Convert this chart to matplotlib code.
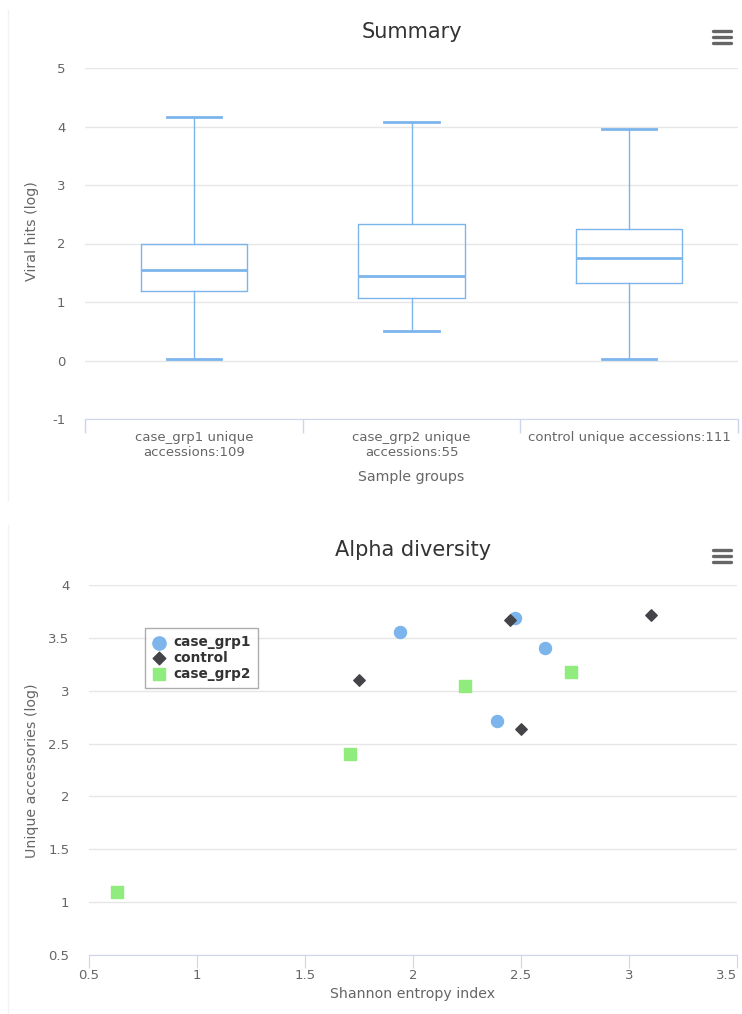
import matplotlib
matplotlib.use("Agg")
import matplotlib.pyplot as plt
from matplotlib.lines import Line2D

plt.rcParams['font.family'] = ['DejaVu Sans']

# ---- Data: Summary box plot ----
groups = ["case_grp1 unique\naccessions:109", "case_grp2 unique\naccessions:55", "control unique accessions:111"]
box_low = [0.03, 0.51, 0.03]
box_q1 = [1.19, 1.07, 1.32]
box_med = [1.54, 1.44, 1.75]
box_q3 = [2.00, 2.33, 2.25]
box_high = [4.16, 4.08, 3.96]
summary_yticks = [-1, 0, 1, 2, 3, 4, 5]

# ---- Data: Alpha diversity scatter ----
grp1_x = [1.94, 2.47, 2.61, 2.39]
grp1_y = [3.56, 3.69, 3.40, 2.71]
ctrl_x = [1.75, 2.45, 2.50, 3.10]
ctrl_y = [3.10, 3.67, 2.64, 3.72]
grp2_x = [0.63, 1.71, 2.24, 2.73]
grp2_y = [1.10, 2.40, 3.04, 3.18]
alpha_xticks = [0.5, 1, 1.5, 2, 2.5, 3, 3.5]
alpha_yticks = [0.5, 1, 1.5, 2, 2.5, 3, 3.5, 4]

BLUE = "#7cb5ec"
DARK = "#434348"
GREEN = "#90ed7d"
GRID = "#e6e6e6"
AXIS = "#ccd6eb"
TXT = "#666666"
TITLE = "#333333"

TICK_FS = 9.5
LABEL_FS = 10.2
TITLE_FS = 15

W, H = 742, 1014
fig = plt.figure(figsize=(W / 100, H / 100), dpi=100)

def fx(px):
    return px / W

def fy(py):
    return 1 - py / H

def fmt(v):
    return "%g" % v

# faint panel borders
for (y0, y1) in ((10, 500), (525, 1014)):
    fig.add_artist(Line2D([fx(8), fx(8)], [fy(y0), fy(y1)], color="#f2f2f2", linewidth=1))

# ---------- Top chart ----------
ax1 = fig.add_axes([fx(85), fy(419), fx(738) - fx(85), fy(68) - fy(419)])
stats = []
for i in range(len(groups)):
    stats.append(dict(whislo=box_low[i], q1=box_q1[i], med=box_med[i],
                      q3=box_q3[i], whishi=box_high[i], fliers=[]))
positions = list(range(len(groups)))
ax1.bxp(stats, positions=positions, widths=0.49, showfliers=False,
        boxprops=dict(color=BLUE, linewidth=1),
        whiskerprops=dict(color=BLUE, linewidth=1),
        capprops=dict(color=BLUE, linewidth=2),
        medianprops=dict(color=BLUE, linewidth=2),
        capwidths=0.25)
ax1.set_xlim(-0.5, len(groups) - 0.5)
ax1.set_ylim(summary_yticks[0], summary_yticks[-1])
ax1.set_yticks(summary_yticks)
ax1.set_yticklabels([fmt(v) for v in summary_yticks])
ax1.grid(axis='y', color=GRID, linewidth=1)
ax1.set_axisbelow(True)
for s in ['top', 'right', 'left']:
    ax1.spines[s].set_visible(False)
ax1.spines['bottom'].set_color(AXIS)
ax1.set_xticks(positions)
ax1.set_xticklabels(groups, fontsize=TICK_FS, color=TXT, linespacing=1.2)
ax1.set_xticks([-0.5, 0.5, 1.5, 2.5], minor=True)
ax1.tick_params(axis='x', which='major', length=0, pad=9)
ax1.tick_params(axis='x', which='minor', length=10, color=AXIS, width=1)
ax1.tick_params(axis='y', length=0, labelsize=TICK_FS, labelcolor=TXT, pad=14)
ax1.set_xlabel("Sample groups", fontsize=LABEL_FS, color=TXT)
ax1.xaxis.set_label_coords(0.5, -0.145)
ax1.set_ylabel("Viral hits (log)", fontsize=LABEL_FS, color=TXT)
ax1.yaxis.set_label_coords(-0.081, 0.536)
ax1.yaxis.label.set_va('center')
fig.text(0.5 * (fx(85) + fx(738)), fy(32), "Summary", ha='center', va='center',
         fontsize=TITLE_FS, color=TITLE)

# ---------- Bottom chart ----------
ax2 = fig.add_axes([fx(89), fy(955), fx(737) - fx(89), fy(585) - fy(955)])
ax2.scatter(grp1_x, grp1_y, marker='o', s=75, color=BLUE, label="case_grp1", zorder=3)
ax2.scatter(ctrl_x, ctrl_y, marker='D', s=34, color=DARK, label="control", zorder=3)
ax2.scatter(grp2_x, grp2_y, marker='s', s=72, color=GREEN, label="case_grp2", zorder=3)
ax2.set_xlim(alpha_xticks[0], alpha_xticks[-1])
ax2.set_ylim(alpha_yticks[0], alpha_yticks[-1])
ax2.set_xticks(alpha_xticks)
ax2.set_xticklabels([fmt(v) for v in alpha_xticks])
ax2.set_yticks(alpha_yticks)
ax2.set_yticklabels([fmt(v) for v in alpha_yticks])
ax2.grid(axis='y', color=GRID, linewidth=1)
ax2.set_axisbelow(True)
for s in ['top', 'right', 'left']:
    ax2.spines[s].set_visible(False)
ax2.spines['bottom'].set_color(AXIS)
ax2.tick_params(axis='x', length=9, color=AXIS, labelsize=TICK_FS, labelcolor=TXT, pad=1)
ax2.tick_params(axis='y', length=0, labelsize=TICK_FS, labelcolor=TXT, pad=14)
xt = ax2.get_xticklabels()
xt[-1].set_ha('right')
ax2.set_xlabel("Shannon entropy index", fontsize=LABEL_FS, color=TXT)
ax2.xaxis.set_label_coords(0.5, -0.086)
ax2.set_ylabel("Unique accessories (log)", fontsize=LABEL_FS, color=TXT)
ax2.yaxis.set_label_coords(-0.088, 0.497)
ax2.yaxis.label.set_va('center')
leg = ax2.legend(loc='upper left', bbox_to_anchor=(0.086, 0.884), frameon=True,
                 fancybox=False, edgecolor="#999999", handletextpad=0.55,
                 borderpad=0.55, labelspacing=0.12, handlelength=1.0,
                 markerscale=1.1, borderaxespad=0, prop=dict(weight='bold', size=9.8))
leg.get_frame().set_linewidth(1)
for t in leg.get_texts():
    t.set_color(TITLE)
fig.text(0.5 * (fx(89) + fx(737)), fy(550), "Alpha diversity", ha='center', va='center',
         fontsize=TITLE_FS, color=TITLE)

# hamburger menu icons
for yc in (37, 556):
    for dy in (-6, 0, 6):
        fig.add_artist(Line2D([fx(713), fx(731)], [fy(yc + dy), fy(yc + dy)],
                              color="#666666", linewidth=2.4, solid_capstyle='round'))

fig.savefig("out.png", dpi=100, facecolor='white')
